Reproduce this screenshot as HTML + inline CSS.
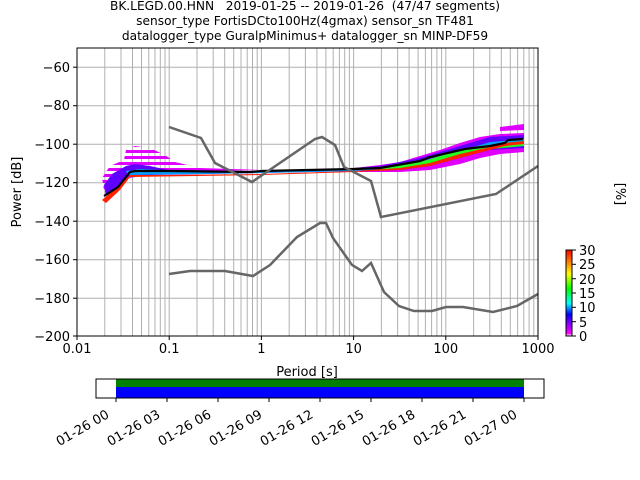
<!DOCTYPE html>
<html><head><meta charset="utf-8"><style>body{margin:0;background:#fff}svg{display:block}text{font-family:"DejaVu Sans","Liberation Sans",sans-serif;fill:#000}</style></head><body>
<svg width="640" height="480" viewBox="0 0 640 480" xmlns="http://www.w3.org/2000/svg">
<defs>
<linearGradient id="cb" x1="0" y1="1" x2="0" y2="0">
<stop offset="0" stop-color="#ffffff"/><stop offset="0.03" stop-color="#ff00ff"/><stop offset="0.15" stop-color="#8000ff"/><stop offset="0.25" stop-color="#0000ff"/><stop offset="0.38" stop-color="#00ffff"/><stop offset="0.55" stop-color="#00ff00"/><stop offset="0.72" stop-color="#ffff00"/><stop offset="0.86" stop-color="#ff8000"/><stop offset="1" stop-color="#ff0000"/>
</linearGradient>
<clipPath id="ax"><rect x="77" y="48" width="461" height="288"/></clipPath>
<pattern id="sp" width="6" height="6" patternUnits="userSpaceOnUse"><rect width="6" height="3" fill="#e000ff"/></pattern>
</defs>
<g stroke="#b0b0b0" stroke-width="1">
<line x1="104.8" y1="48" x2="104.8" y2="336"/><line x1="121" y1="48" x2="121" y2="336"/><line x1="132.5" y1="48" x2="132.5" y2="336"/><line x1="141.5" y1="48" x2="141.5" y2="336"/><line x1="148.8" y1="48" x2="148.8" y2="336"/><line x1="155" y1="48" x2="155" y2="336"/><line x1="160.3" y1="48" x2="160.3" y2="336"/><line x1="165" y1="48" x2="165" y2="336"/><line x1="169.2" y1="48" x2="169.2" y2="336"/>
<line x1="197" y1="48" x2="197" y2="336"/><line x1="213.2" y1="48" x2="213.2" y2="336"/><line x1="224.7" y1="48" x2="224.7" y2="336"/><line x1="233.7" y1="48" x2="233.7" y2="336"/><line x1="241" y1="48" x2="241" y2="336"/><line x1="247.2" y1="48" x2="247.2" y2="336"/><line x1="252.5" y1="48" x2="252.5" y2="336"/><line x1="257.2" y1="48" x2="257.2" y2="336"/><line x1="261.4" y1="48" x2="261.4" y2="336"/>
<line x1="289.2" y1="48" x2="289.2" y2="336"/><line x1="305.4" y1="48" x2="305.4" y2="336"/><line x1="316.9" y1="48" x2="316.9" y2="336"/><line x1="325.9" y1="48" x2="325.9" y2="336"/><line x1="333.2" y1="48" x2="333.2" y2="336"/><line x1="339.4" y1="48" x2="339.4" y2="336"/><line x1="344.7" y1="48" x2="344.7" y2="336"/><line x1="349.4" y1="48" x2="349.4" y2="336"/><line x1="353.6" y1="48" x2="353.6" y2="336"/>
<line x1="381.4" y1="48" x2="381.4" y2="336"/><line x1="397.6" y1="48" x2="397.6" y2="336"/><line x1="409.1" y1="48" x2="409.1" y2="336"/><line x1="418.1" y1="48" x2="418.1" y2="336"/><line x1="425.4" y1="48" x2="425.4" y2="336"/><line x1="431.6" y1="48" x2="431.6" y2="336"/><line x1="436.9" y1="48" x2="436.9" y2="336"/><line x1="441.6" y1="48" x2="441.6" y2="336"/><line x1="445.8" y1="48" x2="445.8" y2="336"/>
<line x1="473.6" y1="48" x2="473.6" y2="336"/><line x1="489.8" y1="48" x2="489.8" y2="336"/><line x1="501.3" y1="48" x2="501.3" y2="336"/><line x1="510.3" y1="48" x2="510.3" y2="336"/><line x1="517.6" y1="48" x2="517.6" y2="336"/><line x1="523.8" y1="48" x2="523.8" y2="336"/><line x1="529.1" y1="48" x2="529.1" y2="336"/><line x1="533.8" y1="48" x2="533.8" y2="336"/>
<line x1="77" y1="67.2" x2="538" y2="67.2"/><line x1="77" y1="105.7" x2="538" y2="105.7"/><line x1="77" y1="144.2" x2="538" y2="144.2"/><line x1="77" y1="182.7" x2="538" y2="182.7"/><line x1="77" y1="221.2" x2="538" y2="221.2"/><line x1="77" y1="259.7" x2="538" y2="259.7"/><line x1="77" y1="298.2" x2="538" y2="298.2"/>
</g>
<g clip-path="url(#ax)">
<polygon fill="url(#sp)" points="102,178 110,166 124,160 126,150 135,146 150,148 165,155 175,162 200,168 262,170 130,172 118,182 104,190"/>
<polygon fill="#e000ff" points="500,127 524,124 524,130 500,131"/>
<polygon fill="#e000ff" points="354,168 380,165 400,162 420,156 440,150 460,143 480,137 500,134 524,133 524,152 500,154 480,158 460,164 430,170 400,172 360,172"/>
<polygon fill="#6000ff" points="104,185 112,174 126,166 135,164 150,166 168,170 200,171 262,171 354,168 380,166 420,158 440,152 460,146 490,137 524,135 524,148 490,150 460,158 430,166 400,170 360,171 262,173 150,175 128,178 118,188 106,196"/>
<polygon fill="#00a0ff" points="126,171 140,169 160,170 200,171 262,171 300,171 354,168 400,166 430,160 460,151 490,142 524,139 524,144 490,148 460,155 430,163 400,168 354,171 262,173 128,175"/>
<polygon fill="#20ff20" points="380,168 420,162 440,156 460,150 480,146 524,141 524,146 480,150 460,156 440,161 420,166 380,171"/>
<polygon fill="#ff2000" points="102,200 110,193 118,187 125,180 130,175 160,175 262,174 354,171 400,168 430,163 460,154 490,147 505,143 524,141 524,144 505,146 490,150 460,158 430,166 400,170 354,172 262,175 130,177 120,190 106,203"/>
<polyline fill="none" stroke="#000" stroke-width="2.2" points="104,196 118,187 126,177 130,172 135,171 170,171 250,172 262,171 354,169 380,168 420,161 430,157 465,149 490,146 505,143 508,140 523,139"/>
<polyline fill="none" stroke="#666" stroke-width="2.5" points="169,127 201,138 215,163 252,182 315,139 322,137 335,145 344,167 371,181 381,217 496,194 538,166"/>
<polyline fill="none" stroke="#666" stroke-width="2.5" points="169,274 190,271 225,271 253,276 270,265 297,237 320,223 326,223 333,238 352,265 362,271 371,263 384,292 399,306 414,311 432,311 446,307 463,307 493,312 517,306 538,294"/>
</g>
<rect x="77" y="48" width="461" height="288" fill="none" stroke="#000" stroke-width="1"/>
<g stroke="#000" stroke-width="1">
<line x1="77" y1="336" x2="77" y2="340"/><line x1="169.2" y1="336" x2="169.2" y2="340"/><line x1="261.4" y1="336" x2="261.4" y2="340"/><line x1="353.6" y1="336" x2="353.6" y2="340"/><line x1="445.8" y1="336" x2="445.8" y2="340"/><line x1="538" y1="336" x2="538" y2="340"/>
<line x1="73" y1="67.2" x2="77" y2="67.2"/><line x1="73" y1="105.7" x2="77" y2="105.7"/><line x1="73" y1="144.2" x2="77" y2="144.2"/><line x1="73" y1="182.7" x2="77" y2="182.7"/><line x1="73" y1="221.2" x2="77" y2="221.2"/><line x1="73" y1="259.7" x2="77" y2="259.7"/><line x1="73" y1="298.2" x2="77" y2="298.2"/><line x1="73" y1="336" x2="77" y2="336"/>
</g>
<g font-size="13" text-anchor="middle">
<text x="77" y="353">0.01</text><text x="169.2" y="353">0.1</text><text x="261.4" y="353">1</text><text x="353.6" y="353">10</text><text x="445.8" y="353">100</text><text x="538" y="353">1000</text>
<text x="307" y="376">Period [s]</text>
</g>
<g font-size="13" text-anchor="end">
<text x="70" y="72">−60</text><text x="70" y="110">−80</text><text x="70" y="149">−100</text><text x="70" y="187">−120</text><text x="70" y="226">−140</text><text x="70" y="264">−160</text><text x="70" y="303">−180</text><text x="70" y="341">−200</text>
</g>
<text font-size="13" text-anchor="middle" transform="translate(21,192) rotate(-90)">Power [dB]</text>
<g font-size="12.2" text-anchor="middle">
<text x="305" y="10">BK.LEGD.00.HNN&#160;&#160; 2019-01-25 -- 2019-01-26&#160; (47/47 segments)</text>
<text x="305" y="25">sensor_type FortisDCto100Hz(4gmax) sensor_sn TF481</text>
<text x="305" y="40">datalogger_type GuralpMinimus+ datalogger_sn MINP-DF59</text>
</g>
<rect x="566" y="250" width="6" height="86" fill="url(#cb)" stroke="#000" stroke-width="1"/>
<g stroke="#000"><line x1="572" y1="250" x2="576" y2="250"/><line x1="572" y1="264.3" x2="576" y2="264.3"/><line x1="572" y1="278.7" x2="576" y2="278.7"/><line x1="572" y1="293" x2="576" y2="293"/><line x1="572" y1="307.3" x2="576" y2="307.3"/><line x1="572" y1="321.7" x2="576" y2="321.7"/><line x1="572" y1="336" x2="576" y2="336"/></g>
<g font-size="13"><text x="579" y="255">30</text><text x="579" y="269">25</text><text x="579" y="284">20</text><text x="579" y="298">15</text><text x="579" y="312">10</text><text x="579" y="327">5</text><text x="579" y="341">0</text></g>
<text font-size="13" text-anchor="middle" transform="translate(616,194) rotate(90)">[%]</text>
<rect x="116" y="379" width="408" height="8" fill="#008000"/>
<rect x="116" y="387" width="408" height="11" fill="#0000ff"/>
<rect x="96" y="379" width="448" height="19" fill="none" stroke="#000" stroke-width="1"/>
<g stroke="#000"><line x1="116" y1="398" x2="116" y2="402"/><line x1="167" y1="398" x2="167" y2="402"/><line x1="218" y1="398" x2="218" y2="402"/><line x1="269" y1="398" x2="269" y2="402"/><line x1="320" y1="398" x2="320" y2="402"/><line x1="371" y1="398" x2="371" y2="402"/><line x1="422" y1="398" x2="422" y2="402"/><line x1="473" y1="398" x2="473" y2="402"/><line x1="524" y1="398" x2="524" y2="402"/></g>
<g font-size="13" text-anchor="end">
<text transform="translate(110,417) rotate(-30)">01-26 00</text>
<text transform="translate(161,417) rotate(-30)">01-26 03</text>
<text transform="translate(212,417) rotate(-30)">01-26 06</text>
<text transform="translate(263,417) rotate(-30)">01-26 09</text>
<text transform="translate(314,417) rotate(-30)">01-26 12</text>
<text transform="translate(365,417) rotate(-30)">01-26 15</text>
<text transform="translate(416,417) rotate(-30)">01-26 18</text>
<text transform="translate(467,417) rotate(-30)">01-26 21</text>
<text transform="translate(518,417) rotate(-30)">01-27 00</text>
</g>
</svg>
</body></html>
